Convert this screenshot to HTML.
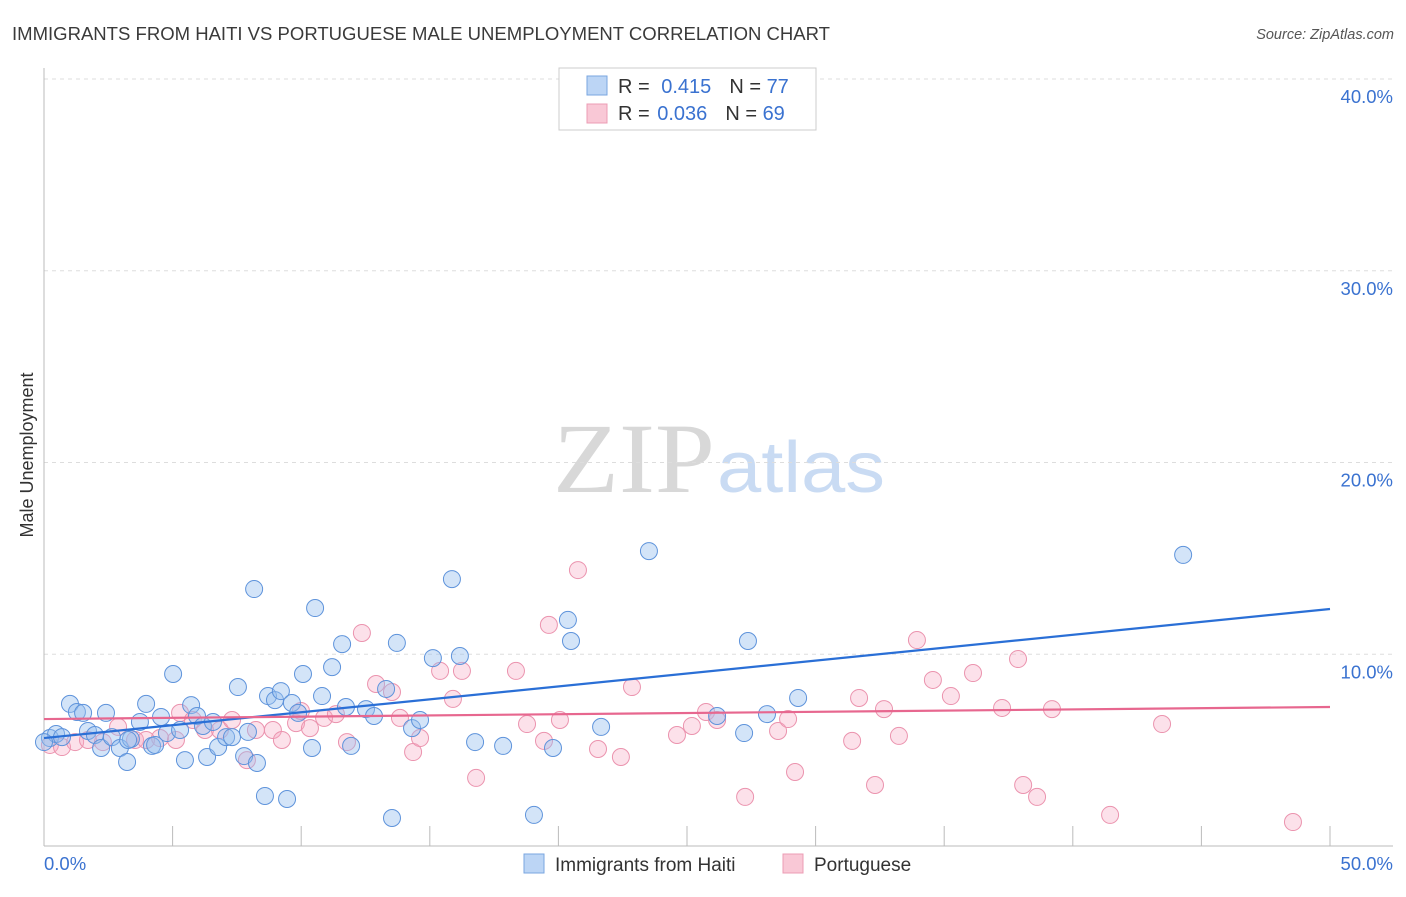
<!DOCTYPE html>
<html><head><meta charset="utf-8"><style>
body{margin:0;background:#fff;}
svg text{font-family:"Liberation Sans",sans-serif;}
</style></head><body>
<svg id="chart" width="1406" height="892" xmlns="http://www.w3.org/2000/svg">
<text x="12" y="40" font-size="18" fill="#3a3a3a" textLength="818" lengthAdjust="spacingAndGlyphs">IMMIGRANTS FROM HAITI VS PORTUGUESE MALE UNEMPLOYMENT CORRELATION CHART</text>
<text x="1394" y="39" font-size="14.5" fill="#555" font-style="italic" text-anchor="end">Source: ZipAtlas.com</text>
<text x="553" y="492" font-size="100" fill="#d8d8d8" style="font-family:'Liberation Serif',serif" textLength="162" lengthAdjust="spacingAndGlyphs">ZIP</text>
<text x="717" y="492" font-size="72" fill="#c9dbf3" textLength="168" lengthAdjust="spacingAndGlyphs">atlas</text>
<text transform="translate(33,455) rotate(-90)" font-size="18" fill="#333" text-anchor="middle">Male Unemployment</text>
<g id="grid"></g><g id="pink"></g><g id="blue"></g><g id="lines"></g>
<g>
<rect x="559" y="68" width="257" height="62" fill="#fff" stroke="#ccc"/>
<rect x="587" y="76" width="20" height="19" fill="#bcd5f5" stroke="#7aa6e0"/>
<rect x="587" y="104" width="20" height="19" fill="#f9c8d6" stroke="#ec9cb4"/>
<text x="618" y="93" font-size="20" fill="#333">R = <tspan fill="#3a72d0" dx="6">0.415</tspan><tspan dx="18">N = </tspan><tspan fill="#3a72d0">77</tspan></text>
<text x="618" y="120" font-size="20" fill="#333">R = <tspan fill="#3a72d0" dx="2">0.036</tspan><tspan dx="18">N = </tspan><tspan fill="#3a72d0">69</tspan></text>
</g>
<g>
<rect x="524" y="854" width="20" height="19" fill="#bcd5f5" stroke="#7aa6e0"/>
<text x="555" y="871" font-size="19" fill="#333">Immigrants from Haiti</text>
<rect x="783" y="854" width="20" height="19" fill="#f9c8d6" stroke="#ec9cb4"/>
<text x="814" y="871" font-size="19" fill="#333">Portuguese</text>
</g>
</svg>
<script>
const yTicks=[10,20,30,40];
const yTickLabels=["10.0%","20.0%","30.0%","40.0%"];
const xTicks=[0,5,10,15,20,25,30,35,40,45,50];
const xTickLabels=["0.0%","50.0%"];
const blueX=[0.23,0.47,0.70,1.01,1.28,1.52,1.71,1.98,2.22,2.41,2.64,2.95,3.23,3.38,3.73,3.97,4.20,4.32,4.55,4.78,5.02,5.29,5.48,5.72,5.95,6.18,6.34,6.57,6.77,7.08,7.31,7.54,7.78,7.93,8.17,8.28,8.59,8.71,8.98,9.21,9.45,9.64,9.88,10.07,10.42,10.54,10.81,11.20,11.59,11.74,11.94,12.52,12.83,13.30,13.53,13.72,14.31,14.62,15.12,15.86,16.17,16.76,17.85,19.05,19.79,20.37,20.49,21.66,23.52,26.17,27.22,27.37,28.11,29.32,44.29,0,3.27];
const blueY=[5.63,5.84,5.68,7.41,6.99,6.94,6.00,5.79,5.11,6.94,5.68,5.11,4.38,5.58,6.47,7.41,5.22,5.27,6.73,5.89,8.97,6.05,4.48,7.35,6.78,6.26,4.64,6.47,5.16,5.68,5.68,8.29,4.69,5.95,13.40,4.33,2.61,7.82,7.61,8.08,2.45,7.46,6.94,8.97,5.11,12.41,7.82,9.33,10.53,7.25,5.22,7.14,6.78,8.19,1.46,10.59,6.15,6.57,9.80,13.92,9.91,5.42,5.22,1.62,5.11,11.79,10.69,6.21,15.38,6.78,5.89,10.69,6.88,7.72,15.18,5.42,5.53];
const pinkX=[0.23,0.70,1.21,1.71,2.29,2.88,3.54,3.97,4.51,5.13,5.29,5.79,6.26,6.84,7.31,7.89,8.24,8.90,9.25,9.80,9.99,10.34,10.89,11.35,11.78,12.36,12.91,13.53,13.84,14.35,14.62,15.40,15.90,16.25,16.80,18.35,18.78,19.44,19.63,20.06,20.76,21.54,22.43,22.86,24.61,25.19,25.74,26.17,27.26,28.54,28.93,29.20,31.69,31.42,32.31,32.66,33.24,33.94,34.56,35.26,36.12,37.25,37.87,38.07,38.61,39.19,41.45,43.47,48.56];
const pinkY=[5.27,5.16,5.42,5.53,5.42,6.21,5.53,5.53,5.63,5.53,6.94,6.57,6.05,6.05,6.57,4.48,6.05,6.05,5.53,6.41,7.04,6.15,6.68,6.88,5.42,11.11,8.45,8.03,6.68,4.90,5.63,9.13,7.67,9.13,3.55,9.13,6.36,5.48,11.53,6.57,14.39,5.06,4.64,8.29,5.79,6.26,6.99,6.57,2.56,6.00,6.62,3.86,7.72,5.48,3.18,7.14,5.74,10.74,8.66,7.82,9.02,7.20,9.75,3.18,2.56,7.14,1.62,6.36,1.25];
const blueTrend=[5.63,12.36];
const pinkTrend=[6.62,7.25];
const NS="http://www.w3.org/2000/svg";
const X=v=>44+v/50*1286, Y=v=>846-v*19.175;
function mk(tag,parent,attrs){const e=document.createElementNS(NS,tag);for(const k in attrs)e.setAttribute(k,attrs[k]);document.getElementById(parent).appendChild(e);return e;}
yTicks.forEach((t,i)=>{
 const g=mk('line','grid',{x1:44,x2:1393,y1:Y(t),y2:Y(t),stroke:'#ddd','stroke-dasharray':'4,4'});
 
 
 const l=mk('text','grid',{x:1393,y:Y(t)+24,'font-size':18.5,fill:'#3a72d0','text-anchor':'end'});
 l.textContent=yTickLabels[i];
 
 
});
const ax=mk('line','grid',{x1:44,x2:1393,y1:846,y2:846,stroke:'#bbb'});


const ay=mk('line','grid',{x1:44,x2:44,y1:68,y2:846,stroke:'#bbb'});


xTicks.forEach(t=>{if(t===0)return;
 const k=mk('line','grid',{x1:X(t),x2:X(t),y1:826,y2:846,stroke:'#bbb'});
 
 
});
const xl0=mk('text','grid',{x:44,y:870,'font-size':18.5,fill:'#3a72d0'});xl0.textContent=xTickLabels[0];


const xl1=mk('text','grid',{x:1393,y:870,'font-size':18.5,fill:'#3a72d0','text-anchor':'end'});xl1.textContent=xTickLabels[1];


pinkX.forEach((v,i)=>{
 const c=mk('circle','pink',{cx:X(v),cy:Y(pinkY[i]),r:8.5,fill:'rgba(246,170,195,0.35)',stroke:'#eb93ae','stroke-width':1});
 
 
});
blueX.forEach((v,i)=>{
 const c=mk('circle','blue',{cx:X(v),cy:Y(blueY[i]),r:8.5,fill:'rgba(150,190,238,0.42)',stroke:'#5e93db','stroke-width':1});
 
 
});
const bl=mk('line','lines',{x1:X(0),x2:X(50),y1:Y(blueTrend[0]),y2:Y(blueTrend[1]),stroke:'#2a6fd6','stroke-width':2.2});


const pl=mk('line','lines',{x1:X(0),x2:X(50),y1:Y(pinkTrend[0]),y2:Y(pinkTrend[1]),stroke:'#e7678f','stroke-width':2.2});


</script>
</body></html>
